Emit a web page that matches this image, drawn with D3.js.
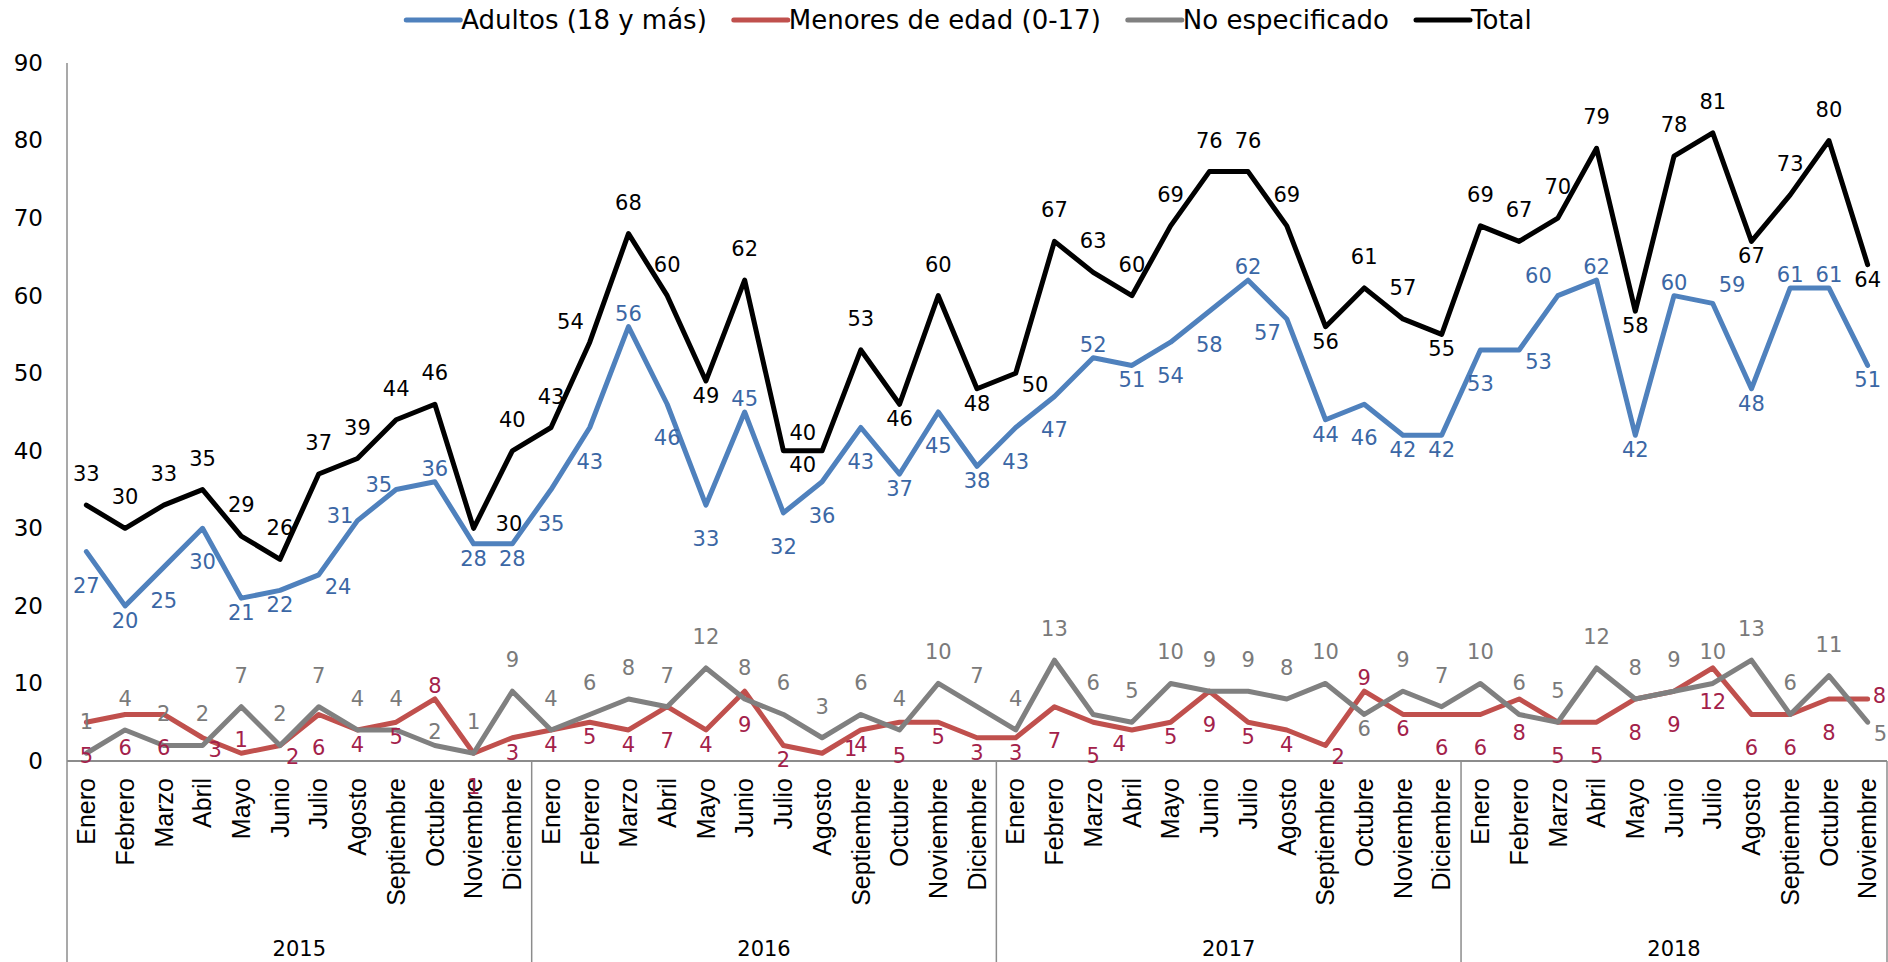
<!DOCTYPE html>
<html>
  <head>
    <meta charset="utf-8">
    <title>Personas por mes, 2015-2018</title>
    <style type="text/css">
        body { margin: 0; background: #fff; }
        svg { display: block; font-family: "DejaVu Sans", sans-serif; }
        .lbl { font-size: 21px; }
        .month { font-size: 25px; }
    </style>
  </head>
  <body>
    <svg width="1888" height="962"></svg>

    <script src="https://d3js.org/d3.v7.min.js"></script>
    <script>

    // Category axis: months grouped by year
    var months = ["Enero", "Febrero", "Marzo", "Abril", "Mayo", "Junio", "Julio",
                  "Agosto", "Septiembre", "Octubre", "Noviembre", "Diciembre"];
    var years = ["2015", "2016", "2017", "2018"];
    var monthsPerYear = [12, 12, 12, 11];

    // Series values
    var adultos = [27, 20, 25, 30, 21, 22, 24, 31, 35, 36, 28, 28,
                   35, 43, 56, 46, 33, 45, 32, 36, 43, 37, 45, 38,
                   43, 47, 52, 51, 54, 58, 62, 57, 44, 46, 42, 42,
                   53, 53, 60, 62, 42, 60, 59, 48, 61, 61, 51];
    var menores = [5, 6, 6, 3, 1, 2, 6, 4, 5, 8, 1, 3,
                   4, 5, 4, 7, 4, 9, 2, 1, 4, 5, 5, 3,
                   3, 7, 5, 4, 5, 9, 5, 4, 2, 9, 6, 6,
                   6, 8, 5, 5, 8, 9, 12, 6, 6, 8, 8];
    var noEspecificado = [1, 4, 2, 2, 7, 2, 7, 4, 4, 2, 1, 9,
                   4, 6, 8, 7, 12, 8, 6, 3, 6, 4, 10, 7,
                   4, 13, 6, 5, 10, 9, 9, 8, 10, 6, 9, 7,
                   10, 6, 5, 12, 8, 9, 10, 13, 6, 11, 5];
    var total = [33, 30, 33, 35, 29, 26, 37, 39, 44, 46, 30, 40,
                 43, 54, 68, 60, 49, 62, 40, 40, 53, 46, 60, 48,
                 50, 67, 63, 60, 69, 76, 76, 69, 56, 61, 57, 55,
                 69, 67, 70, 79, 58, 78, 81, 67, 73, 80, 64];

    var yTicks = [0, 10, 20, 30, 40, 50, 60, 70, 80, 90];

    // Where each data label sits relative to its point
    var posAdultos = ("B b B B b b br l l n b b " +
                      "B B n B B n B B B b B b " +
                      "B B n b B B n bl b B b b " +
                      "B br tl n b n tr b n n b").split(" ");
    var posMenores = ("B B B br n br B b b n B b " +
                      "b b b B b B b rr b B b b " +
                      "b B B bl b B b b br n b B " +
                      "B B B B B B B B B B r").split(" ");
    var posNoEsp = ("t t t t t t t t t n t t " +
                    "t t t t t t t t t t t t " +
                    "t t t t t t t t t b t t " +
                    "t t t t t t t t t t br").split(" ");
    var posTotal = ("t t t t t t t t t t rr t " +
                    "t tl t t b t tr bl t b t b " +
                    "br t t t t t t t b t t b " +
                    "t t t t b t t b t t b").split(" ");

    var place = {
        t:  [0, -31, "middle"], n:  [0, -13, "middle"],
        b:  [0, 15, "middle"],  B:  [0, 34, "middle"],
        tl: [-6, -20, "end"],   tr: [6, -18, "start"],
        bl: [-6, 14, "end"],    br: [6, 12, "start"],
        l:  [-4, -5, "end"],    r:  [5, -3, "start"],
        rr: [22, -4, "start"]
    };

    var series = [
        {name: "Adultos (18 y más)", values: adultos, color: "#4f81bd", label: "#3b67a5", pos: posAdultos},
        {name: "Menores de edad (0-17)", values: menores, color: "#c0504d", label: "#a3214a", pos: posMenores},
        {name: "No especificado", values: noEspecificado, color: "#808080", label: "#7a7a7a", pos: posNoEsp},
        {name: "Total", values: total, color: "#000000", label: "#000000", pos: posTotal}
    ];

    var categories = [];
    years.forEach(function(yr, k) {
        months.slice(0, monthsPerYear[k]).forEach(function(m) {
            categories.push({year: yr, month: m});
        });
    });

    var svg = d3.select("svg"),
        width = +svg.attr("width"),
        height = +svg.attr("height");

    var left = 67, right = 1887, zeroY = 761, topY = 63;

    var x = d3.scaleBand()
        .domain(d3.range(categories.length))
        .range([left, right]);

    var cx = function(i) { return x(i) + x.bandwidth() / 2; };

    var y = d3.scaleLinear()
        .domain([0, 90])
        .range([zeroY, topY]);

    // Y axis labels
    var yAxis = svg.append("g")
        .attr("transform", "translate(" + left + ",0)")
        .call(d3.axisLeft(y).tickValues(yTicks).tickSize(0).tickPadding(24));
    yAxis.select(".domain").remove();
    yAxis.selectAll("text")
        .attr("font-family", "DejaVu Sans, sans-serif")
        .attr("font-size", 23)
        .attr("fill", "#000");

    // Axis lines
    svg.append("line")
        .attr("x1", left).attr("x2", left)
        .attr("y1", topY).attr("y2", height)
        .attr("stroke", "#8c8c8c").attr("stroke-width", 1.5);

    svg.append("line")
        .attr("x1", left).attr("x2", right)
        .attr("y1", zeroY).attr("y2", zeroY)
        .attr("stroke", "#8c8c8c").attr("stroke-width", 2);

    // Month labels
    var xAxis = svg.append("g")
        .attr("transform", "translate(0," + zeroY + ")")
        .call(d3.axisBottom(x).tickSize(0).tickFormat(function(i) { return categories[i].month; }));
    xAxis.select(".domain").remove();
    xAxis.selectAll("text")
        .attr("class", "month")
        .attr("font-family", null)
        .attr("font-size", null)
        .attr("fill", "#000")
        .attr("text-anchor", "end")
        .attr("transform", "rotate(-90)")
        .attr("x", -17)
        .attr("y", 0)
        .attr("dy", "0.35em");

    // Year groups: separators and labels
    var bounds = [0];
    monthsPerYear.forEach(function(n, k) { bounds.push(bounds[k] + n); });
    var bx = function(k) { return k < categories.length ? x(k) : x.range()[1]; };

    svg.append("g").selectAll("line")
        .data(bounds.slice(1))
        .enter().append("line")
        .attr("x1", function(d) { return bx(d); })
        .attr("x2", function(d) { return bx(d); })
        .attr("y1", zeroY).attr("y2", height)
        .attr("stroke", "#8c8c8c").attr("stroke-width", 1.5);

    svg.append("g").selectAll("text")
        .data(years)
        .enter().append("text")
        .attr("x", function(d, k) { return (bx(bounds[k]) + bx(bounds[k + 1])) / 2; })
        .attr("y", 956)
        .attr("text-anchor", "middle")
        .attr("font-size", 21)
        .text(function(d) { return d; });

    // Lines
    var line = d3.line()
        .x(function(d, i) { return cx(i); })
        .y(function(d) { return y(d); });

    svg.append("g").selectAll("path")
        .data(series)
        .enter().append("path")
        .attr("d", function(s) { return line(s.values); })
        .attr("fill", "none")
        .attr("stroke", function(s) { return s.color; })
        .attr("stroke-width", 5)
        .attr("stroke-linejoin", "round")
        .attr("stroke-linecap", "round");

    // Data labels
    series.forEach(function(s) {
        svg.append("g").selectAll("text")
            .data(s.values)
            .enter().append("text")
            .attr("class", "lbl")
            .attr("x", function(d, i) { return cx(i) + place[s.pos[i]][0]; })
            .attr("y", function(d, i) { return y(d) + place[s.pos[i]][1]; })
            .attr("text-anchor", function(d, i) { return place[s.pos[i]][2]; })
            .attr("dominant-baseline", "central")
            .attr("fill", s.label)
            .text(function(d) { return d; });
    });

    // Legend
    var legend = svg.append("g");
    var items = legend.selectAll("g")
        .data(series)
        .enter().append("g");
    items.append("line")
        .attr("x1", 0).attr("x2", 54)
        .attr("y1", 20).attr("y2", 20)
        .attr("stroke", function(s) { return s.color; })
        .attr("stroke-width", 5)
        .attr("stroke-linecap", "round");
    items.append("text")
        .attr("x", 55)
        .attr("y", 20)
        .attr("dominant-baseline", "central")
        .attr("font-size", 26)
        .text(function(s) { return s.name; });

    var offset = 0;
    items.each(function() {
        var w = 55 + this.querySelector("text").getComputedTextLength();
        d3.select(this).attr("transform", "translate(" + offset + ",0)");
        offset += w + 27;
    });
    legend.attr("transform", "translate(" + (969 - (offset - 27) / 2) + ",0)");

    </script>
  </body>
</html>
